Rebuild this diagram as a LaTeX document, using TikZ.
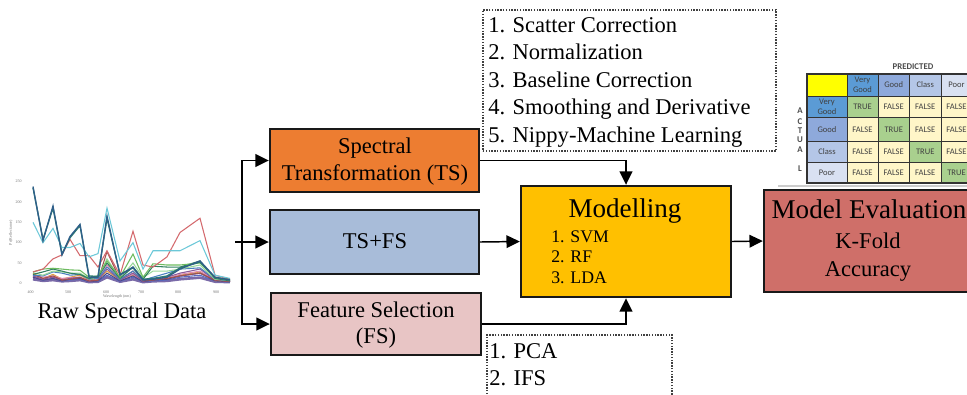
\documentclass[tikz,border=0pt]{standalone}
\usepackage{fontspec}
\setmainfont{Liberation Serif}
\newfontfamily\calfont{Carlito}
\usetikzlibrary{arrows.meta}
\definecolor{corange}{HTML}{ED7D31}
\definecolor{cblue}{HTML}{A8BCD9}
\definecolor{cpink}{HTML}{E8C5C5}
\definecolor{cmod}{HTML}{FFC000}
\definecolor{ceval}{HTML}{CF6F69}
\definecolor{cyel}{HTML}{FFFF00}
\definecolor{cvg}{HTML}{5B9BD5}
\definecolor{cgd}{HTML}{8EA9DB}
\definecolor{ccl}{HTML}{B4C6E7}
\definecolor{cpr}{HTML}{D9E1F2}
\definecolor{ctrue}{HTML}{A9D08E}
\definecolor{cfalse}{HTML}{FFF6C8}
\definecolor{sA}{HTML}{2F5F8A}
\definecolor{sB}{HTML}{2E7D6E}
\definecolor{sC}{HTML}{6CC8D8}
\definecolor{sD}{HTML}{D46A6E}
\definecolor{sE}{HTML}{6DBB5F}
\definecolor{sF}{HTML}{2F7F5F}
\definecolor{sG}{HTML}{4A80C0}
\definecolor{sH}{HTML}{8A5A9A}
\definecolor{sI}{HTML}{4A4A8A}
\definecolor{sJ}{HTML}{E0A040}
\definecolor{sK}{HTML}{E08AB0}
\definecolor{sL}{HTML}{5A6AC0}
\definecolor{sM}{HTML}{9AD89A}
\definecolor{sN}{HTML}{A05050}
\definecolor{sO}{HTML}{7A6AA8}
\begin{document}
\begin{tikzpicture}[x=0.75pt,y=-0.75pt,
  box/.style={draw=black!90, line width=1.8pt, rectangle, inner sep=0pt},
  dotbox/.style={draw=black!75, line width=1.1pt, densely dotted, rectangle, inner sep=0pt},
  conn/.style={line width=1.1pt},
  arr/.style={line width=1.1pt, -{Triangle[length=10pt,width=9.5pt]}},
  big/.style={anchor=base, inner sep=0pt, font=\fontsize{16.9}{20}\selectfont},
  bigl/.style={anchor=base west, inner sep=0pt, font=\fontsize{16.9}{20}\selectfont},
  title/.style={anchor=base, inner sep=0pt, font=\fontsize{20.3}{24}\selectfont},
  small/.style={anchor=base west, inner sep=0pt, font=\fontsize{13.3}{16}\selectfont},
  cellb/.style={draw=black!80, line width=0.7pt},
  ctext/.style={inner sep=0pt, align=center, text=black!75, font=\calfont\fontsize{6.4}{7.6}\selectfont},
  tiny/.style={inner sep=0pt, text=black!55, font=\fontsize{3}{3}\selectfont},
  sp/.style={line width=0.8pt}]
\useasboundingbox (0,0) rectangle (967,394);
\clip (0,0) rectangle (967,394);

% ---------- raw spectral plot ----------
\begin{scope}[shift={(0,283.3)}, y=0.305pt]
  \foreach \v in {0,50,100,150,200,250} \node[tiny, anchor=east] at (22,\v) {\v};
  \foreach \x/\l in {30.5/400,68/500,106/600,141/700,178/800,216/900} \node[tiny] at (\x,-22) {\l};
  \node[tiny, rotate=90] at (11,125) {Pr(Reflectance)};
  \node[tiny] at (117,-33) {Wavelength (nm)};
  \draw[sp, sO, line width=2pt] plot coordinates {(33,10)(43,6)(53,8)(62,5)(70,6)(80,8)(89,3)(98,4)(107,15)(120,4)(133,10)(143,3)(153,5)(167,6)(180,10)(200,14)(215,4)(230,3)};
  \draw[sp, sL] plot coordinates {(33,16)(43,8)(53,12)(62,6)(70,8)(80,10)(89,4)(98,5)(107,20)(120,5)(133,15)(143,4)(153,6)(167,8)(180,15)(200,20)(215,5)(230,3)};
  \draw[sp, sJ] plot coordinates {(33,25)(43,12)(53,22)(62,10)(70,15)(80,20)(89,8)(98,10)(107,30)(120,8)(133,20)(143,6)(153,10)(167,12)(180,20)(200,28)(215,6)(230,5)};
  \draw[sp, sK] plot coordinates {(33,20)(43,15)(53,18)(62,12)(70,14)(80,15)(89,6)(98,9)(107,45)(120,8)(133,22)(143,6)(153,10)(167,12)(180,22)(200,30)(215,7)(230,5)};
  \draw[sp, sI] plot coordinates {(33,15)(43,8)(53,12)(62,6)(70,10)(80,12)(89,4)(98,6)(107,25)(120,6)(133,18)(143,4)(153,8)(167,10)(180,18)(200,25)(215,6)(230,4)};
  \draw[sp, sH] plot coordinates {(33,18)(43,10)(53,15)(62,8)(70,12)(80,15)(89,5)(98,8)(107,35)(120,8)(133,25)(143,5)(153,10)(167,15)(180,25)(200,35)(215,8)(230,5)};
  \draw[sp, sN] plot coordinates {(33,22)(43,12)(53,18)(62,8)(70,10)(80,14)(89,6)(98,7)(107,78)(120,10)(133,30)(143,6)(153,8)(167,12)(180,18)(200,25)(215,8)(230,4)};
  \draw[sp, sG] plot coordinates {(33,20)(43,18)(53,28)(62,25)(70,20)(80,22)(89,10)(98,12)(107,40)(120,10)(133,30)(143,8)(153,15)(167,25)(180,35)(200,38)(215,10)(230,6)};
  \draw[sp, sM] plot coordinates {(33,26)(43,20)(53,30)(62,28)(70,25)(80,25)(89,12)(98,15)(107,60)(120,12)(133,50)(143,14)(153,30)(167,30)(180,35)(200,45)(215,10)(230,7)};
  \draw[sp, sF] plot coordinates {(33,22)(43,28)(53,35)(62,30)(70,25)(80,22)(89,12)(98,15)(107,50)(120,12)(133,40)(143,10)(153,42)(167,40)(180,40)(200,55)(215,12)(230,6)};
  \draw[sp, sE] plot coordinates {(33,28)(43,35)(53,37)(62,35)(70,33)(80,32)(89,15)(98,18)(107,55)(120,15)(133,72)(143,15)(153,48)(167,45)(180,45)(200,50)(215,15)(230,8)};
  \draw[sp, sD] plot coordinates {(33,28)(43,35)(53,60)(62,70)(70,108)(80,68)(89,68)(98,40)(107,80)(120,20)(133,128)(143,45)(153,40)(167,65)(180,125)(200,160)(215,20)(230,10)};
  \draw[sp, sC] plot coordinates {(33,150)(43,100)(53,135)(62,88)(70,88)(80,98)(89,65)(98,73)(107,185)(120,55)(133,100)(143,35)(153,80)(167,80)(180,80)(200,105)(215,20)(230,12)};
  \draw[sp, sB, line width=1pt] plot coordinates {(33,235)(43,108)(53,185)(62,72)(70,112)(80,142)(89,18)(98,17)(107,160)(120,22)(133,38)(143,10)(153,12)(167,18)(180,38)(200,52)(215,14)(230,9)};
  \draw[sp, sA, line width=1pt] plot coordinates {(33,238)(43,105)(53,190)(62,70)(70,115)(80,145)(89,15)(98,15)(107,165)(120,20)(133,40)(143,8)(153,10)(167,15)(180,35)(200,55)(215,15)(230,8)};
\end{scope}
\node[big] (raw) at (122,318) {Raw Spectral Data};

% ---------- boxes ----------
\node[box, fill=corange, minimum width=156.75pt, minimum height=47.25pt] (ST) at (374.5,160.5) {};
\node[box, fill=cblue, minimum width=156.75pt, minimum height=48pt] (TSFS) at (374.5,242) {};
\node[box, fill=cpink, minimum width=157.5pt, minimum height=46.5pt] (FS) at (376,324) {};
\node[box, fill=cmod, minimum width=157.5pt, minimum height=83.25pt] (MOD) at (626,241.5) {};
\node[box, fill=ceval, minimum width=157.5pt, minimum height=76.5pt] (EVAL) at (869,241) {};
\node[dotbox, minimum width=219.75pt, minimum height=105.75pt] (TL) at (629.5,80.5) {};
\node[dotbox, minimum width=138.75pt, minimum height=48.75pt] (BL) at (579.5,367.5) {};

% ---------- texts ----------
\node[big] at (375,153) {Spectral};
\node[big] at (375,180) {Transformation (TS)};
\node[big] at (375,248) {TS+FS};
\node[big] at (376,317) {Feature Selection};
\node[big] at (376,343) {(FS)};
\node[title] at (625,217) {Modelling};
\node[small] at (551,242) {1. SVM};
\node[small] at (551,262.5) {2. RF};
\node[small] at (551,283.5) {3. LDA};
\node[title] at (869,218) {Model Evaluation};
\node[big] at (868,248) {K-Fold};
\node[big] at (868,276) {Accuracy};
\foreach \t [count=\i from 0] in {1. Scatter Correction,2. Normalization,3. Baseline Correction,4. Smoothing and Derivative,5. Nippy-Machine Learning}
  \node[bigl] at (488,{32+27.6*\i}) {\t};
\node[bigl] at (489,358.3) {1. PCA};
\node[bigl] at (489,385) {2. IFS};

% ---------- connectors ----------
\coordinate (src) at (235,242);
\coordinate (fork) at (242,242);
\draw[conn] (src) -- (fork);
\draw[arr] (fork) |- (ST.west);
\draw[arr] (fork) -- (TSFS.west);
\draw[arr] (fork) |- (FS.west);
\draw[arr] (TSFS.east) -- (MOD.west);
\draw[arr] (ST.east) -| (MOD.north);
\draw[arr] (FS.east) -| (MOD.south);
\draw[arr] (MOD.east) -- (EVAL.west);

% ---------- confusion matrix ----------
\def\colx{{807,847,878,909.5,941,972}}
\def\rowy{{74,96,117.5,141.5,162.5,183}}
\node[ctext, font=\calfont\bfseries\fontsize{6.6}{7}\selectfont, text=black!70] (pred) at (913,67) {PREDICTED};
\foreach \l/\yy in {A/110.7,C/121.7,T/130.7,U/139.3,A/149.3,L/168.3}
  \node[ctext, font=\calfont\bfseries\fontsize{6.6}{7}\selectfont, text=black!70] at (800,\yy) {\l};
\foreach \j/\col/\t in {0/cyel/{},1/cvg/{Very\\Good},2/cgd/{Good},3/ccl/{Class},4/cpr/{Poor}} {
  \pgfmathsetmacro\xl{\colx[\j]}\pgfmathsetmacro\xr{\colx[\j+1]}
  \draw[cellb, fill=\col] (\xl,74) rectangle (\xr,96);
  \node[ctext] (h\j) at ({(\xl+\xr)/2},85) {\t};
}
\foreach \i/\col/\t in {1/cvg/{Very\\Good},2/cgd/{Good},3/ccl/{Class},4/cpr/{Poor}} {
  \pgfmathsetmacro\yt{\rowy[\i]}\pgfmathsetmacro\yb{\rowy[\i+1]}
  \draw[cellb, fill=\col] (807,\yt) rectangle (847,\yb);
  \node[ctext] (r\i) at (827,{(\yt+\yb)/2}) {\t};
  \foreach \j in {1,2,3,4} {
    \pgfmathsetmacro\xl{\colx[\j]}\pgfmathsetmacro\xr{\colx[\j+1]}
    \ifnum\i=\j \def\fc{ctrue}\def\ct{TRUE}\else\def\fc{cfalse}\def\ct{FALSE}\fi
    \draw[cellb, fill=\fc] (\xl,\yt) rectangle (\xr,\yb);
    \node[ctext] (m\i\j) at ({(\xl+\xr)/2},{(\yt+\yb)/2}) {\ct};
  }
}
\draw[cellb, line width=1pt] (807,74) rectangle (972,183);
\draw[black!20, line width=1.2pt] (778,186) -- (967,186);
\end{tikzpicture}
\end{document}
